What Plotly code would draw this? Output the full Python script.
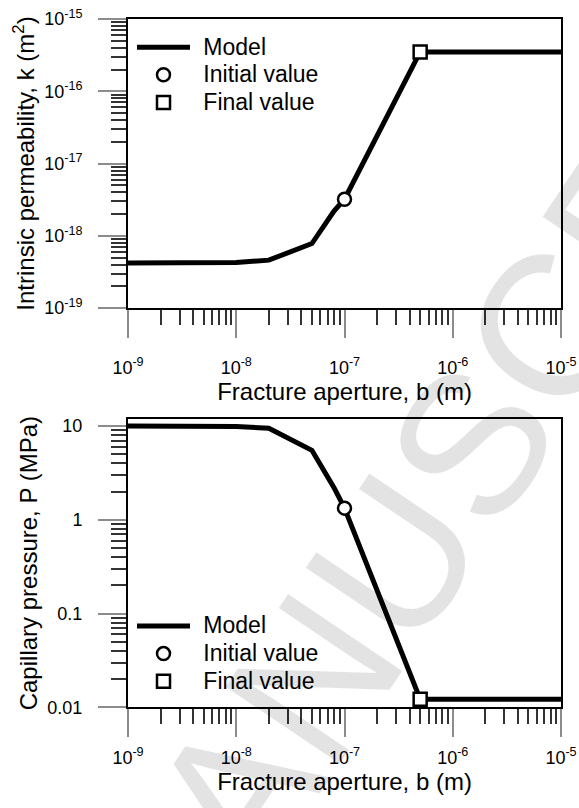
import plotly.graph_objects as go

# Fracture aperture b (m) at which the model was evaluated
b_model = [1e-9, 1e-8, 2e-8, 5e-8, 8e-8, 1e-7, 5e-7, 1e-5]
# Intrinsic permeability k (m^2)
k_model = [4.2e-19, 4.25e-19, 4.6e-19, 7.8e-19, 2.2e-18, 3.2e-18, 3.5e-16, 3.5e-16]
# Capillary pressure P (MPa)
p_model = [10.0, 9.9, 9.45, 5.5, 2.2, 1.33, 0.0122, 0.0122]

# Initial and final states
b_initial = [1e-7]
k_initial = [3.2e-18]
p_initial = [1.33]
b_final = [5e-7]
k_final = [3.5e-16]
p_final = [0.0122]

x_tick_vals = [1e-9, 1e-8, 1e-7, 1e-6, 1e-5]
x_tick_text = ["10<sup>-9</sup>", "10<sup>-8</sup>", "10<sup>-7</sup>", "10<sup>-6</sup>", "10<sup>-5</sup>"]
k_tick_vals = [1e-19, 1e-18, 1e-17, 1e-16, 1e-15]
k_tick_text = ["10<sup>-19</sup>", "10<sup>-18</sup>", "10<sup>-17</sup>", "10<sup>-16</sup>", "10<sup>-15</sup>"]
p_tick_vals = [0.01, 0.1, 1, 10]
p_tick_text = ["0.01", "0.1", "1", "10"]

FONT = "Liberation Sans, Arial, sans-serif"


def minor_vals(e_lo, e_hi):
    return [m * 10.0 ** e for e in range(e_lo, e_hi) for m in range(2, 10)]


def axis_style(tickvals, ticktext, minor_ticks, title, label_gap, title_gap):
    return dict(
        type="log", automargin=False,
        showline=True, linecolor="black", linewidth=2, mirror=True,
        showgrid=False, zeroline=False,
        ticks="outside", ticklen=28, tickwidth=1.5, tickcolor="#8c8c8c",
        tickmode="array", tickvals=tickvals, ticktext=ticktext,
        tickfont=dict(family=FONT, size=18, color="black"),
        ticklabelstandoff=label_gap,
        minor=dict(ticks="outside", ticklen=15, tickwidth=1.5, tickcolor="#333333",
                   tickmode="array", tickvals=minor_ticks, showgrid=False),
        title=dict(text=title, standoff=title_gap,
                   font=dict(family=FONT, size=24, color="black")),
    )


fig = go.Figure()

line_style = dict(color="black", width=5)
circle_style = dict(symbol="circle", size=13, color="white", line=dict(color="black", width=2.5))
square_style = dict(symbol="square", size=13, color="white", line=dict(color="black", width=2.5))


def legend_name(txt):
    return '<span style="font-size:30px">\u00a0</span><span style="font-size:23px">' + txt + "</span>"


# Permeability panel
fig.add_trace(go.Scatter(x=b_model, y=k_model, mode="lines", line=line_style,
                         name=legend_name("Model"), legend="legend", xaxis="x", yaxis="y"))
fig.add_trace(go.Scatter(x=b_initial, y=k_initial, mode="markers", marker=circle_style,
                         name=legend_name("Initial value"), legend="legend", xaxis="x", yaxis="y"))
fig.add_trace(go.Scatter(x=b_final, y=k_final, mode="markers", marker=square_style,
                         name=legend_name("Final value"), legend="legend", xaxis="x", yaxis="y"))

# Capillary pressure panel
fig.add_trace(go.Scatter(x=b_model, y=p_model, mode="lines", line=line_style,
                         name=legend_name("Model"), legend="legend2", xaxis="x2", yaxis="y2"))
fig.add_trace(go.Scatter(x=b_initial, y=p_initial, mode="markers", marker=circle_style,
                         name=legend_name("Initial value"), legend="legend2", xaxis="x2", yaxis="y2"))
fig.add_trace(go.Scatter(x=b_final, y=p_final, mode="markers", marker=square_style,
                         name=legend_name("Final value"), legend="legend2", xaxis="x2", yaxis="y2"))

W, H = 579, 808
x_dom = [128 / W, 561 / W]
top_dom = [1 - 308 / H, 1 - 19 / H]
bot_dom = [1 - 707.3 / H, 1 - 419 / H]

x_title = "Fracture aperture, b (m)"
fig.update_layout(
    width=W, height=H,
    margin=dict(l=0, r=0, t=0, b=0, autoexpand=False),
    paper_bgcolor="white", plot_bgcolor="white",
    font=dict(family=FONT, color="black"),
    xaxis=dict(axis_style(x_tick_vals, x_tick_text, minor_vals(-9, -5), x_title, 14, 3),
               domain=x_dom, anchor="y", range=[-9, -5]),
    yaxis=dict(axis_style(k_tick_vals, k_tick_text, minor_vals(-19, -15),
                          "Intrinsic permeability, k (m<sup>2</sup>)", 12, 3),
               domain=top_dom, anchor="x", range=[-19, -15]),
    xaxis2=dict(axis_style(x_tick_vals, x_tick_text, minor_vals(-9, -5), x_title, 5, 0),
                domain=x_dom, anchor="y2", range=[-9, -5]),
    yaxis2=dict(axis_style(p_tick_vals, p_tick_text, minor_vals(-2, 1),
                           "Capillary pressure, P (MPa)", 12, 3),
                domain=bot_dom, anchor="x2", range=[-2, 1.0745]),
    legend=dict(x=132 / W, y=0.965, xanchor="left", yanchor="top", bgcolor="rgba(0,0,0,0)",
                font=dict(family=FONT, size=19, color="black"), itemwidth=53,
                tracegroupgap=0),
    legend2=dict(x=132 / W, y=0.2487, xanchor="left", yanchor="top", bgcolor="rgba(0,0,0,0)",
                 font=dict(family=FONT, size=19, color="black"), itemwidth=53,
                 tracegroupgap=0),
    showlegend=True,
)

# Journal watermark
fig.add_annotation(text="ACCEPTED MANUSCRIPT", xref="paper", yref="paper",
                   x=155 / W, y=1 - 914 / H, xanchor="center", yanchor="middle",
                   showarrow=False, textangle=-56,
                   font=dict(family=FONT, size=200, color="rgba(0,0,0,0.11)"))

fig.write_html("out.html")
